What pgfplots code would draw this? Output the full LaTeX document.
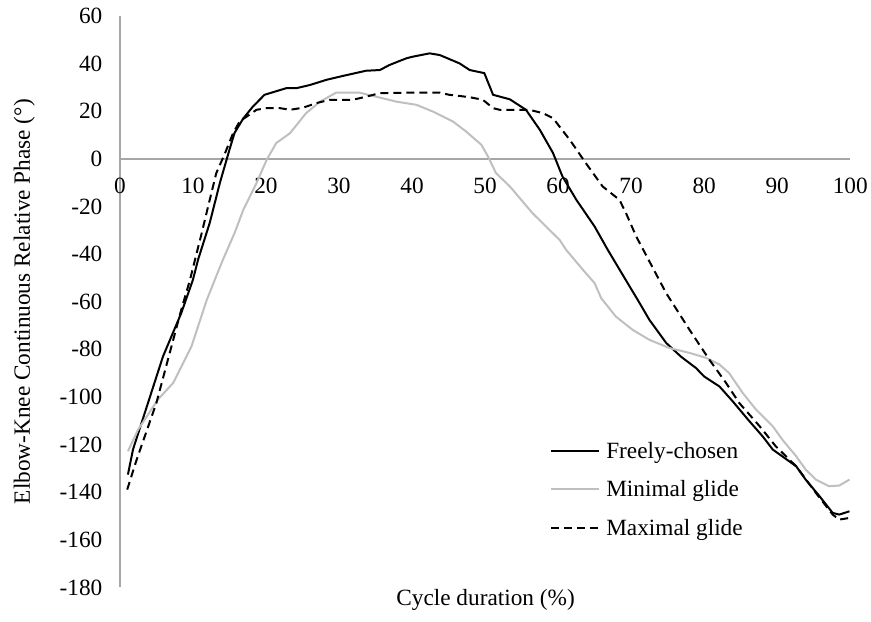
\documentclass[border=0pt]{standalone}
\usepackage{fontspec}
\setmainfont{Liberation Serif}
\usepackage{pgfplots}
\pgfplotsset{compat=1.18}
\definecolor{axgray}{HTML}{A6A6A6}
\definecolor{mingray}{HTML}{BFBFBF}
\newcommand{\bigf}{\fontsize{23.3}{28}\selectfont}
\begin{document}
\begin{tikzpicture}
\begin{axis}[
  name=ax,
  scale only axis,
  width=731pt, height=572pt,
  xmin=0, xmax=100, ymin=-180, ymax=60,
  enlargelimits=false,
  axis x line=middle,
  axis y line=left,
  hide obscured x ticks=false,
  hide obscured y ticks=false,
  axis line style={-, color=axgray, line width=2pt},
  xtick={0,10,...,100},
  ytick={-180,-160,...,60},
  major tick length=0pt,
  tick style={draw=none},
  /pgf/number format/assume math mode=true,
  tick label style={font=\bigf},
  xticklabel style={anchor=north, yshift=-15.5pt},
  yticklabel style={anchor=east, xshift=-14pt},
  xlabel={Cycle duration (\%)},
  ylabel={Elbow-Knee Continuous Relative Phase (°)},
  every axis x label/.style={at={(axis description cs:0.5007,-0.021)}, anchor=center, font=\bigf},
  every axis y label/.style={at={(axis description cs:-0.131,0.5)}, anchor=center, rotate=90, font=\bigf},
  legend style={at={(axis description cs:0.585,0.262)}, anchor=north west, draw=none, fill=none, font=\bigf, row sep=17pt, column sep=4pt},
  legend cell align=left,
  legend image code/.code={\draw[#1] (0pt,0pt) -- (48pt,0pt);},
  clip=false,
]
\addplot[black, line width=2pt] coordinates {
(1.1,-132.6) (1.8,-122) (5.9,-83) (8.4,-64.8) (10,-50.8) (10.7,-42.4) (12.3,-26.9) (13.7,-10) (15,3.8) (15.7,10.9) (16.9,17) (18.2,21.9) (19.8,26.9) (22.8,29.7) (24.2,29.7) (26,31) (28.3,33.2) (30.5,34.8) (33.7,37) (35.6,37.3) (36.9,39.4) (39.2,42.2) (40.1,42.9) (42.4,44.3) (43.8,43.6) (46.5,40.1) (47.9,37.3) (49.9,36) (51.1,26.9) (53.4,25) (55.6,20.6) (57.5,12.2) (59.3,2.5) (60.6,-7.4) (62.5,-17.2) (65,-28.4) (66.8,-38.2) (69.8,-53.6) (70.9,-59.2) (72.5,-67.6) (74.8,-77.3) (76.8,-83) (78.9,-87.9) (80,-91.4) (82.1,-95.6) (83.9,-101.8) (86.2,-110.2) (88,-116.5) (89.4,-122.1) (92.6,-129.1) (93.9,-134.7) (95.8,-141.7) (97.6,-148.7) (98.5,-149.4) (99.9,-148)
};
\addlegendentry{Freely-chosen}
\addplot[mingray, line width=2pt] coordinates {
(1.1,-122.8) (2.5,-113.7) (5.2,-101.1) (7.3,-94.1) (9.8,-78.8) (11.9,-59.2) (14.1,-42.4) (15.7,-31.2) (16.9,-21.4) (18.7,-10.2) (20.1,-0.4) (21.4,6.6) (23.3,10.8) (25.5,19.2) (27.4,24) (29.6,27.8) (32.8,27.8) (35.1,26.1) (37.9,24) (40.6,22.7) (42.9,19.8) (45.6,15.7) (47.4,11.5) (49.5,5.9) (50.4,1) (51.5,-6) (53.4,-11.6) (56.5,-22.8) (58.8,-29.8) (60.2,-34) (61.1,-38.2) (63.4,-46.6) (65,-52.2) (65.9,-58.5) (67.9,-66.2) (70.2,-71.8) (72.5,-76) (75.2,-79.4) (78,-81.5) (80.3,-83.6) (82.1,-86.4) (83.4,-89.9) (85.3,-98.4) (87.1,-105.3) (89.4,-112.3) (90.7,-117.9) (92.6,-124.9) (93.9,-130.5) (95.3,-134.7) (97.1,-137.5) (98.5,-137.2) (99.9,-134.7)
};
\addlegendentry{Minimal glide}
\addplot[black, line width=2pt, dash pattern=on 8pt off 5pt] coordinates {
(1,-138.9) (2.3,-126.3) (5,-102.5) (7.3,-76) (8.4,-63.4) (9.6,-50.8) (11.2,-31.2) (12.3,-17.2) (13.2,-6) (14.4,2.4) (15.5,10.8) (16.4,15.7) (18.7,20.6) (20.1,21.3) (21.9,21.3) (23.3,20.6) (25.1,21.5) (26.9,23.4) (28.7,24.8) (31.9,24.8) (33.7,26.1) (35.6,27.6) (39.7,27.8) (43.8,27.8) (45.1,26.9) (47.9,25.9) (49.7,24.8) (51.1,21.3) (52,20.6) (56.1,20.6) (57.9,19.2) (59.3,17.1) (61.6,8) (63.8,-1.8) (66.1,-11.6) (68.4,-17.2) (69.3,-22.8) (70.7,-32.6) (74.8,-56.4) (78,-71.8) (80.7,-84.3) (83,-94.1) (84.8,-102.5) (87.6,-112.3) (89.8,-120.7) (92.6,-129.1) (95.3,-140.3) (97.6,-149.4) (98.5,-151.5) (99.9,-150.8)
};
\addlegendentry{Maximal glide}
\end{axis}
\path ([xshift=-120pt,yshift=-34pt]ax.south west) rectangle ([xshift=20pt,yshift=16pt]ax.north east);
\end{tikzpicture}
\end{document}
